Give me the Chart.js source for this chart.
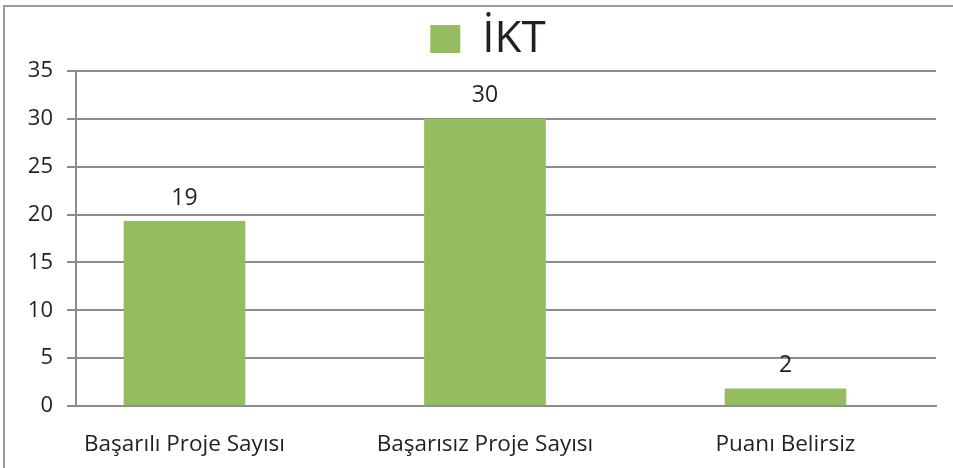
<!DOCTYPE html>
<html>
<head>
<meta charset="utf-8">
<script src="https://cdn.jsdelivr.net/npm/chart.js@4/dist/chart.umd.min.js"></script>
<style>
  html, body { margin: 0; padding: 0; background: #fff; }
  #wrap { width: 953px; height: 468px; position: relative; }
</style>
</head>
<body>
<div id="wrap"><canvas id="chart" width="953" height="468"></canvas></div>
<script>
const categories = ["Başarılı Proje Sayısı", "Başarısız Proje Sayısı", "Puanı Belirsiz"];
const seriesName = "İKT";
const values = [19.3, 30, 1.8];
const valueLabels = ["19", "30", "2"];
const yTicks = [0, 5, 10, 15, 20, 25, 30, 35];

const textColor = "#231f20";
const gridColor = "#8c8c8c";
const barColor = "#93bd5f";
const fontFamily = "'Open Sans', 'Noto Sans', sans-serif";

Chart.defaults.font.family = fontFamily;
Chart.defaults.color = textColor;

// outer frame of the original picture
const framePlugin = {
    id: "frame",
    beforeDraw(chart) {
        const ctx = chart.ctx;
        ctx.save();
        ctx.strokeStyle = "#9a9a9a";
        ctx.lineWidth = 2;
        ctx.beginPath();
        ctx.moveTo(4, 468);
        ctx.lineTo(4, 6);
        ctx.lineTo(953, 6);
        ctx.stroke();
        ctx.restore();
    }
};

// legend in the original sits a bit right of centre
const legendShift = {
    id: "legendShift",
    afterLayout(chart) {
        chart.legend.left += 20;
        chart.legend.right += 20;
    }
};

// value labels above the bars
const valueLabelPlugin = {
    id: "valueLabels",
    afterDatasetsDraw(chart) {
        const ctx = chart.ctx;
        const meta = chart.getDatasetMeta(0);
        ctx.save();
        ctx.font = "23px " + fontFamily;
        ctx.fillStyle = textColor;
        ctx.textAlign = "center";
        ctx.textBaseline = "middle";
        meta.data.forEach((bar, i) => {
            ctx.fillText(valueLabels[i], bar.x, bar.y - 23);
        });
        ctx.restore();
    }
};

new Chart(document.getElementById("chart"), {
    type: "bar",
    data: {
        datasets: [{
            label: seriesName,
            data: values.map((v, i) => ({ x: i, y: v })),
            backgroundColor: barColor,
            barThickness: 121
        }]
    },
    options: {
        responsive: false,
        animation: false,
        layout: { padding: { top: 6, right: 17, bottom: 0, left: 0 } },
        plugins: {
            legend: {
                display: true,
                position: "top",
                labels: {
                    boxWidth: 30,
                    boxHeight: 28,
                    padding: 11,
                    font: { size: 44 },
                    color: textColor
                }
            },
            tooltip: { enabled: false }
        },
        scales: {
            x: {
                type: "linear",
                min: -0.361,
                max: 2.501,
                offset: false,
                grid: { display: false },
                border: { display: true, color: gridColor, width: 2 },
                ticks: {
                    stepSize: 1,
                    autoSkip: false,
                    includeBounds: false,
                    maxRotation: 0,
                    padding: 17,
                    font: { size: 22.5 },
                    color: textColor,
                    callback: v => Number.isInteger(v) ? categories[v] : ""
                },
                afterFit: s => { s.height = 62; }
            },
            y: {
                min: 0,
                max: 35,
                grid: { color: gridColor, lineWidth: 2, tickLength: 9 },
                border: { display: true, color: gridColor, width: 2 },
                ticks: {
                    stepSize: 5,
                    padding: 14,
                    font: { size: 22 },
                    color: textColor,
                    callback: v => yTicks.includes(v) ? String(v) : ""
                },
                afterFit: s => { s.width = 76; }
            }
        }
    },
    plugins: [framePlugin, legendShift, valueLabelPlugin]
});
</script>
</body>
</html>
